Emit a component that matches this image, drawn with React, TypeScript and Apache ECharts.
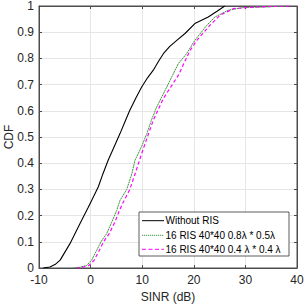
import React, { useEffect, useRef } from "react";
import * as echarts from "echarts";

const xTicks = [-10, 0, 10, 20, 30, 40];
const yTicks = [0, 0.1, 0.2, 0.3, 0.4, 0.5, 0.6, 0.7, 0.8, 0.9, 1];

const seriesNames = [
  "Without RIS",
  "16 RIS 40*40 0.8λ * 0.5λ",
  "16 RIS 40*40 0.4 λ * 0.4 λ",
];
const seriesColors = ["#000000", "#3a993a", "#ff00ff"];

const withoutX = [-9.2, -7.9, -6.9, -5.9, -4.0, -2.05, -0.5, 0.2, 1.5, 2.4, 3.4, 4.5, 5.7, 6.7, 7.6, 8.8, 9.9, 11.0, 12.15, 13.2, 14.1, 15.3, 16.7, 18.3, 20.2, 22.8, 24.5, 26.0];
const withoutY = [0, 0.004, 0.013, 0.03, 0.093, 0.17, 0.23, 0.258, 0.31, 0.36, 0.411, 0.46, 0.513, 0.56, 0.602, 0.65, 0.691, 0.725, 0.755, 0.79, 0.818, 0.845, 0.869, 0.895, 0.933, 0.958, 0.98, 1];

const risAX = [-3.35, -2.0, -0.75, 0.2, 1.2, 2.0, 3.1, 4.1, 5.06, 5.7, 7.0, 8.0, 8.6, 9.8, 10.9, 11.8, 12.8, 14.1, 15.4, 17.0, 18.6, 20.2, 22.5, 24.1, 26.7, 29.6, 33.5, 38.0];
const risAY = [0, 0.003, 0.01, 0.03, 0.068, 0.1, 0.131, 0.175, 0.22, 0.258, 0.3, 0.36, 0.411, 0.46, 0.513, 0.565, 0.614, 0.665, 0.716, 0.78, 0.818, 0.869, 0.926, 0.958, 0.984, 0.994, 0.996, 1];

const risBX = [-2.8, -1.5, -0.3, 0.7, 1.7, 2.5, 3.6, 4.7, 5.6, 6.3, 7.6, 8.8, 9.9, 11.0, 12.15, 13.1, 14.1, 15.5, 17.0, 18.3, 19.3, 20.6, 23.1, 25.1, 27.7, 31.6, 36.7, 39.0];
const risBY = [0, 0.003, 0.01, 0.03, 0.068, 0.1, 0.131, 0.175, 0.22, 0.25, 0.3, 0.37, 0.437, 0.5, 0.564, 0.605, 0.647, 0.69, 0.735, 0.79, 0.831, 0.869, 0.926, 0.965, 0.99, 0.996, 0.999, 1];

const pairs = (xs: number[], ys: number[]) => xs.map((x, i) => [x, ys[i]]);

const FONT = "Liberation Sans, Arial, sans-serif";
const AXIS_COLOR = "#262626";
const FRAME = "#4d4d4d";

export default function App() {
  const ref = useRef<HTMLDivElement>(null);
  useEffect(() => {
    if (!ref.current) return;
    const chart = echarts.init(ref.current, undefined, { renderer: "svg" });
    const gridLeft = 39;
    const gridTop = 6;
    const gridW = 258;
    const gridH = 262;

    const lgX = 139;
    const lgY = 212;
    const lgW = 150;
    const lgH = 44;
    const rowY = [220.7, 235.3, 249.3];
    const dashes: any[] = [null, [1.2, 0.8], [4, 2.5]];
    const legendChildren: any[] = [
      {
        type: "rect",
        z: 100,
        shape: { x: lgX, y: lgY, width: lgW, height: lgH },
        style: { fill: "#ffffff", stroke: "#333333", lineWidth: 0.8 },
      },
    ];
    seriesNames.forEach((n, i) => {
      legendChildren.push({
        type: "line",
        z: 101,
        shape: { x1: lgX + 3, y1: rowY[i], x2: lgX + 25, y2: rowY[i] },
        style: { stroke: seriesColors[i], lineWidth: 1, lineDash: dashes[i] },
      });
      legendChildren.push({
        type: "text",
        z: 101,
        x: lgX + 26.5,
        y: rowY[i],
        style: {
          text: n,
          fontSize: 10,
          fontFamily: FONT,
          fill: "#000000",
          verticalAlign: "middle",
          align: "left",
        },
      });
    });

    const axisCommon = {
      axisLine: { show: true, onZero: false, lineStyle: { color: FRAME, width: 1 } },
      axisTick: { show: true, inside: true, length: 3, lineStyle: { color: FRAME } },
    };

    chart.setOption({
      animation: false,
      backgroundColor: "#ffffff",
      textStyle: { fontFamily: FONT },
      grid: {
        left: gridLeft,
        top: gridTop,
        width: gridW,
        height: gridH,
        show: true,
        borderColor: FRAME,
        borderWidth: 1,
        backgroundColor: "#ffffff",
        containLabel: false,
        outerBoundsMode: "none",
      },
      xAxis: [
        {
          type: "value",
          min: xTicks[0],
          max: xTicks[xTicks.length - 1],
          interval: 10,
          position: "bottom",
          name: "SINR (dB)",
          nameLocation: "middle",
          nameGap: 18,
          nameTextStyle: { fontSize: 12, color: AXIS_COLOR, fontFamily: FONT },
          ...axisCommon,
          axisLabel: { fontSize: 12, lineHeight: 12, color: AXIS_COLOR, margin: 6, fontFamily: FONT },
          splitLine: { show: true, lineStyle: { color: "#e6e6e6", width: 1 } },
        },
        {
          type: "value",
          min: xTicks[0],
          max: xTicks[xTicks.length - 1],
          interval: 10,
          position: "top",
          ...axisCommon,
          axisLabel: { show: false },
          splitLine: { show: false },
        },
      ],
      yAxis: [
        {
          type: "value",
          min: yTicks[0],
          max: yTicks[yTicks.length - 1],
          interval: 0.1,
          position: "left",
          ...axisCommon,
          axisLabel: {
            fontSize: 12,
            lineHeight: 12,
            color: AXIS_COLOR,
            margin: 5,
            fontFamily: FONT,
            formatter: (v: number) => {
              const r = Math.round(v * 10) / 10;
              return r === 0 || r === 1 ? String(r) : r.toFixed(1);
            },
          },
          splitLine: { show: true, lineStyle: { color: "#e6e6e6", width: 1 } },
        },
        {
          type: "value",
          min: yTicks[0],
          max: yTicks[yTicks.length - 1],
          interval: 0.1,
          position: "right",
          ...axisCommon,
          axisLabel: { show: false },
          splitLine: { show: false },
        },
      ],
      series: [
        {
          name: seriesNames[0],
          type: "line",
          data: pairs(withoutX, withoutY),
          showSymbol: false,
          symbol: "none",
          lineStyle: { color: seriesColors[0], width: 1.1 },
          z: 3,
        },
        {
          name: seriesNames[1],
          type: "line",
          data: pairs(risAX, risAY),
          showSymbol: false,
          symbol: "none",
          lineStyle: { color: seriesColors[1], width: 1, type: [2, 0.6] },
          z: 4,
        },
        {
          name: seriesNames[2],
          type: "line",
          data: pairs(risBX, risBY),
          showSymbol: false,
          symbol: "none",
          lineStyle: { color: seriesColors[2], width: 1.2, type: [3.5, 2.5] },
          z: 5,
        },
      ],
      graphic: {
        elements: [
          { type: "group", z: 100, children: legendChildren },
          {
            type: "text",
            x: 9,
            y: gridTop + gridH / 2,
            rotation: Math.PI / 2,
            style: {
              text: "CDF",
              fontSize: 12,
              fontFamily: FONT,
              fill: AXIS_COLOR,
              align: "center",
              verticalAlign: "middle",
            },
          },
        ],
      },
    });
    return () => chart.dispose();
  }, []);
  return <div ref={ref} style={{ width: 306, height: 305, position: "absolute", left: 0, top: 0 }} />;
}
